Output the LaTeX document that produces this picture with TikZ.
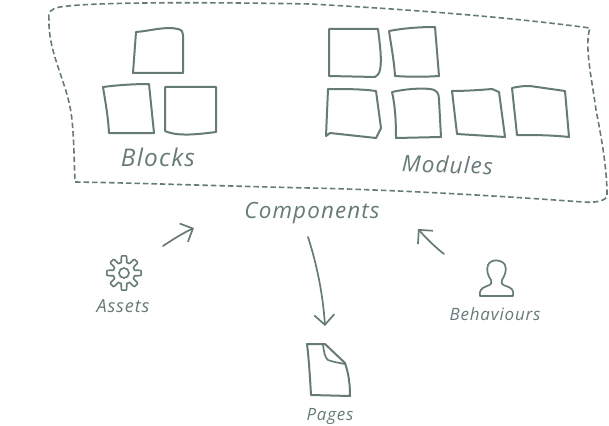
\documentclass[tikz,border=0pt]{standalone}
\usepackage{graphicx}
\usepackage{fontspec}
\setmainfont{Open Sans}
\usetikzlibrary{arrows.meta}
\definecolor{ink}{HTML}{667A77}
\newcommand{\handtext}[2]{\resizebox{#1pt}{!}{\itshape\addfontfeature{LetterSpace=5}#2}}
\tikzset{
  sketch/.style={draw=ink,line width=2pt,line join=round,line cap=round},
  frameline/.style={draw=ink,line width=1.6pt,dash pattern=on 5.5pt off 3pt},
  label/.style={text=ink,inner sep=0pt,anchor=base},
  flow/.style={draw=ink,line width=1.7pt,line cap=round,-{Straight Barb[length=10pt,width=20pt,line width=1.7pt]}}
}
\begin{document}
\begin{tikzpicture}[x=1pt,y=-1pt]
\useasboundingbox (0,0) rectangle (609,425);
% dashed frame
\draw[frameline] (49,20) .. controls (48,12) and (50,9) .. (60,7)
  .. controls (90,2) and (200,2) .. (310,4)
  .. controls (400,9) and (500,16) .. (590,28)
  .. controls (584,45) and (592,80) .. (596,110)
  .. controls (602,140) and (607,170) .. (607,195)
  .. controls (607,201) and (595,203) .. (583,202)
  .. controls (500,196) and (400,190) .. (310,188)
  .. controls (220,186) and (140,183) .. (75,182)
  .. controls (74,160) and (74,125) .. (70,107)
  .. controls (65,80) and (48,50) .. (49,20) -- cycle;
% blocks
\draw[sketch] (136,32) .. controls (150,31) and (165,26) .. (178,29) .. controls (182,30) and (183,32) .. (183,35) -- (183,73) -- (133,73) -- cycle;
\draw[sketch] (103,87) .. controls (118,85) and (135,84) .. (149,84) -- (154,133) -- (109,133) .. controls (108,115) and (105,100) .. (103,87) -- cycle;
\draw[sketch] (165,87) -- (216,87) -- (216,132) .. controls (200,134) and (178,137) .. (165,131) -- cycle;
% modules
\draw[sketch] (329,29) -- (378,29) .. controls (380,45) and (382,60) .. (380,70) .. controls (379,74) and (377,76) .. (375,77) -- (329,76) -- cycle;
\draw[sketch] (389,31) .. controls (405,28) and (420,27) .. (435,27) -- (439,76) .. controls (425,77) and (410,77) .. (395,76) .. controls (394,60) and (391,45) .. (389,31) -- cycle;
\draw[sketch] (328,89) .. controls (345,89) and (362,89) .. (376,91) -- (381,128) -- (376,138) -- (330,133) -- (326,136) -- cycle;
\draw[sketch] (392,92) .. controls (405,89) and (420,88) .. (430,89) .. controls (437,90) and (439,93) .. (439,100) -- (441,137) -- (396,138) .. controls (396,120) and (395,105) .. (392,92) -- cycle;
\draw[sketch] (452,91) .. controls (465,91) and (480,90) .. (492,89) -- (499,92) -- (505,137) -- (457,134) -- cycle;
\draw[sketch] (512,88) .. controls (520,86) and (527,86) .. (530,86) -- (565,91) -- (569,137) .. controls (550,135) and (535,135) .. (517,135) -- cycle;
% labels
\node[label] (blocks) at (158,166) {\handtext{74}{Blocks}};
\node[label,rotate=-2] (modules) at (447,173) {\handtext{91}{Modules}};
\node[label] (components) at (312,218) {\handtext{135}{Components}};
\node[label] (assets) at (123,312) {\handtext{53}{Assets}};
\node[label] (behaviours) at (495,320) {\handtext{91}{Behaviours}};
\node[label] (pages) at (330,420) {\handtext{47}{Pages}};
% arrows
\coordinate (a1s) at (163,246); \coordinate (a1e) at (194,228);
\coordinate (a2s) at (308,237); \coordinate (a2e) at (325,326);
\coordinate (a3s) at (444,254); \coordinate (a3e) at (418,229);
\draw[flow] (a1s) .. controls (172,240) and (183,233) .. (a1e);
\draw[flow] (a2s) .. controls (317,265) and (323,295) .. (a2e);
\draw[flow] (a3s) .. controls (435,247) and (426,238) .. (a3e);
% gear
\draw[ink,line width=1.6pt,line join=round] plot[smooth cycle,variable=\t,domain=0:357.75,samples=160] ({124+(14+3.2*max(-1,min(1,2.5*cos(8*\t))))*cos(\t)},{273+(14+3.2*max(-1,min(1,2.5*cos(8*\t))))*sin(\t)});
\draw[ink,line width=1.6pt] (124,273) circle[radius=5pt];
% page
\draw[sketch] (307,344) -- (325,344) -- (345,363) .. controls (349,375) and (350,385) .. (350,396) -- (311,395) .. controls (310,378) and (309,360) .. (307,344) -- cycle;
\draw[sketch,line width=1.7pt] (323,345) .. controls (324,352) and (325,358) .. (328,360) .. controls (333,362) and (340,363) .. (345,364);
% person
\draw[sketch,line width=1.7pt] (480,296) -- (513,296) .. controls (514,290) and (512,288) .. (506,286) .. controls (502,285) and (501,283) .. (502,280) .. controls (505,275) and (507,270) .. (505,265) .. controls (503,260) and (491,258) .. (488,265) .. controls (486,270) and (488,276) .. (491,280) .. controls (492,283) and (491,285) .. (487,286) .. controls (481,288) and (479,291) .. (480,296) -- cycle;
\end{tikzpicture}
\end{document}
